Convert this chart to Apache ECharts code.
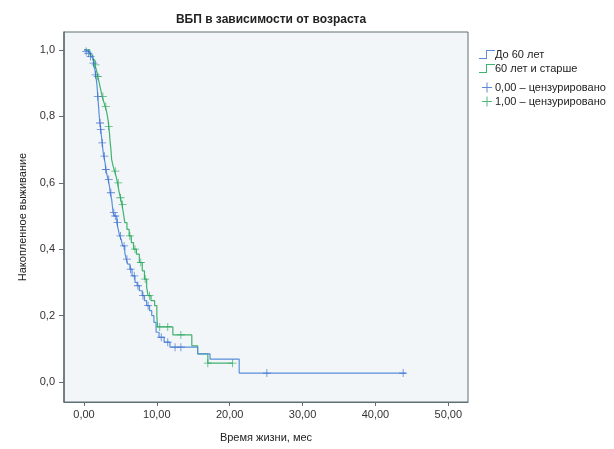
<!DOCTYPE html>
<html>
<head>
<meta charset="utf-8">
<script src="https://cdn.jsdelivr.net/npm/echarts@6/dist/echarts.min.js"></script>
<style>
  html, body { margin: 0; padding: 0; background: #fff; }
  #chart { width: 614px; height: 449px; }
</style>
</head>
<body>
<div id="chart"></div>
<script>
// Kaplan-Meier steps (time in months, cumulative survival)
var youngTimes = [0, 0.3, 0.6, 0.9, 1.1, 1.3, 1.5, 1.6, 1.7, 1.8, 1.9, 2.0, 2.1, 2.2, 2.3, 2.4, 2.5, 2.6, 2.7, 2.9,
    3.0, 3.2, 3.3, 3.5, 3.6, 3.8, 3.9, 4.0, 4.2, 4.5, 4.7, 4.9, 5.1, 5.3, 5.6, 5.8, 6.0, 6.3, 6.6, 7.0,
    7.3, 7.6, 8.0, 8.3, 8.6, 9.0, 9.3, 9.6, 9.9, 10.3, 11.0, 11.8, 15.6, 17.3, 21.3, 44.2];
var youngSurv = [1.0, 0.995, 0.99, 0.98, 0.975, 0.96, 0.94, 0.925, 0.91, 0.89, 0.86, 0.83, 0.80, 0.78, 0.76, 0.74, 0.72, 0.70, 0.68, 0.66,
    0.64, 0.62, 0.61, 0.59, 0.57, 0.55, 0.53, 0.51, 0.50, 0.48, 0.46, 0.44, 0.43, 0.41, 0.39, 0.37, 0.355, 0.34, 0.32, 0.30,
    0.29, 0.275, 0.26, 0.245, 0.23, 0.215, 0.20, 0.18, 0.15, 0.135, 0.12, 0.105, 0.085, 0.069, 0.027, 0.027];
var youngCensored = [0.3, 0.6, 0.9, 1.3, 1.6, 1.9, 2.2, 2.3, 2.5, 2.8, 3.0, 3.4, 3.7, 4.1, 4.3, 4.6, 5.0, 5.5, 5.9,
    6.4, 6.9, 7.4, 8.1, 8.8, 10.6, 11.5, 12.5, 13.3, 25.1, 43.8];

var oldTimes = [0, 0.8, 1.2, 1.5, 1.7, 1.9, 2.1, 2.3, 2.5, 2.7, 2.9, 3.1, 3.3, 3.4, 3.5, 3.6, 3.7, 3.8, 4.0, 4.2,
    4.4, 4.6, 4.8, 5.0, 5.2, 5.4, 5.6, 5.9, 6.2, 6.5, 6.8, 7.2, 7.6, 8.0, 8.3, 8.6, 8.8, 9.2, 9.7, 10.0,
    10.1, 12.2, 14.8, 15.6, 17.0, 20.4];
var oldSurv = [1.0, 0.985, 0.97, 0.955, 0.94, 0.92, 0.90, 0.88, 0.86, 0.845, 0.83, 0.815, 0.79, 0.77, 0.75, 0.72, 0.70, 0.67, 0.65, 0.635,
    0.62, 0.60, 0.575, 0.555, 0.535, 0.51, 0.48, 0.46, 0.44, 0.42, 0.40, 0.385, 0.36, 0.335, 0.31, 0.285, 0.26, 0.245, 0.23, 0.20,
    0.166, 0.142, 0.109, 0.085, 0.057, 0.057];
var oldCensored = [1.6, 1.9, 2.6, 3.0, 3.4, 4.3, 4.7, 5.0, 5.3, 6.3, 7.0, 7.8, 8.4, 9.0, 10.4, 11.5, 13.3, 17.0, 20.4];

var xTicks = [0, 10, 20, 30, 40, 50];
var yTicks = [0, 0.2, 0.4, 0.6, 0.8, 1.0];

var seriesNames = ['До 60 лет', '60 лет и старше', '0,00 – цензурировано', '1,00 – цензурировано'];

function pairs(times, surv) {
    return times.map(function (t, i) { return [t, surv[i]]; });
}

// survival value of the step curve at a censoring time
function censorPoints(censored, times, surv) {
    return censored.map(function (c) {
        var s = surv[0];
        for (var i = 0; i < times.length; i++) {
            if (times[i] <= c) s = surv[i];
        }
        return [c, s];
    });
}

var font = "'Liberation Sans Narrow', 'Liberation Sans', Arial, sans-serif";
var plusIcon = 'path://M0,4.5 L10,4.5 L10,5.5 L0,5.5 Z M4.5,0 L5.5,0 L5.5,10 L4.5,10 Z';
var stepIcon = 'path://M0,9 L7,9 L7,1 L16,1 L16,2 L8,2 L8,10 L0,10 Z';
var blue = '#5a8fda', green = '#3fb26e';
var blueMark = '#3568cc', greenMark = '#26a65b';
var legendText = { fontFamily: font, fontSize: 11, color: '#222', padding: [0, 0, 0, -5] };

var chart = echarts.init(document.getElementById('chart'));

chart.setOption({
    backgroundColor: '#ffffff',
    animation: false,
    title: {
        text: 'ВБП в зависимости от возраста',
        left: 266,
        top: 9,
        textAlign: 'center',
        textStyle: { fontFamily: font, fontSize: 12, fontWeight: 'bold', color: '#222' }
    },
    legend: [{
        data: [
            { name: seriesNames[0], icon: stepIcon, itemStyle: { color: blue } },
            { name: seriesNames[1], icon: stepIcon, itemStyle: { color: green } }
        ],
        orient: 'vertical',
        left: 474,
        top: 44,
        itemGap: 3,
        itemWidth: 16,
        itemHeight: 10,
        textStyle: legendText
    }, {
        data: [
            { name: seriesNames[2], icon: plusIcon, itemStyle: { color: blueMark } },
            { name: seriesNames[3], icon: plusIcon, itemStyle: { color: greenMark } }
        ],
        orient: 'vertical',
        left: 477,
        top: 77,
        itemGap: 3,
        itemWidth: 12,
        itemHeight: 10,
        textStyle: { fontFamily: font, fontSize: 11, color: '#222', padding: [0, 0, 0, -3] }
    }],
    grid: {
        left: 64,
        top: 32,
        width: 404,
        height: 370,
        show: true,
        backgroundColor: '#f3f6f8',
        borderColor: '#5f6e73',
        borderWidth: 1
    },
    xAxis: {
        type: 'value',
        min: -2.74,
        max: 52.7,
        name: 'Время жизни, мес',
        nameLocation: 'middle',
        nameGap: 30,
        nameTextStyle: { fontFamily: font, fontSize: 11, color: '#222' },
        axisLine: { show: true, onZero: false, lineStyle: { color: '#5f6e73' } },
        axisTick: { show: true, customValues: xTicks, length: 4, lineStyle: { color: '#5f6e73' } },
        axisLabel: {
            customValues: xTicks,
            fontFamily: font,
            fontSize: 11,
            color: '#333',
            margin: 7,
            formatter: function (v) { return v.toFixed(2).replace('.', ','); }
        },
        splitLine: { show: false }
    },
    yAxis: {
        type: 'value',
        min: -0.06,
        max: 1.054,
        name: 'Накопленное выживание',
        nameLocation: 'middle',
        nameGap: 34,
        nameTextStyle: { fontFamily: font, fontSize: 11, color: '#222' },
        axisLine: { show: true, onZero: false, lineStyle: { color: '#5f6e73', width: 1.5 } },
        axisTick: { show: true, customValues: yTicks, length: 5, lineStyle: { color: '#5f6e73' } },
        axisLabel: {
            customValues: yTicks,
            fontFamily: font,
            fontSize: 11,
            color: '#333',
            margin: 9,
            formatter: function (v) { return v.toFixed(1).replace('.', ','); }
        },
        splitLine: { show: false }
    },
    series: [{
        name: seriesNames[0],
        type: 'line',
        step: 'end',
        data: pairs(youngTimes, youngSurv),
        showSymbol: false,
        symbol: 'none',
        color: blue,
        lineStyle: { width: 1.2, color: blue },
        z: 3
    }, {
        name: seriesNames[1],
        type: 'line',
        step: 'end',
        data: pairs(oldTimes, oldSurv),
        showSymbol: false,
        symbol: 'none',
        color: green,
        lineStyle: { width: 1.2, color: green },
        z: 2
    }, {
        name: seriesNames[2],
        type: 'scatter',
        data: censorPoints(youngCensored, youngTimes, youngSurv),
        symbol: plusIcon,
        symbolSize: 8,
        itemStyle: { color: blueMark },
        z: 5
    }, {
        name: seriesNames[3],
        type: 'scatter',
        data: censorPoints(oldCensored, oldTimes, oldSurv),
        symbol: plusIcon,
        symbolSize: 8,
        itemStyle: { color: greenMark },
        z: 4
    }]
});
</script>
</body>
</html>
